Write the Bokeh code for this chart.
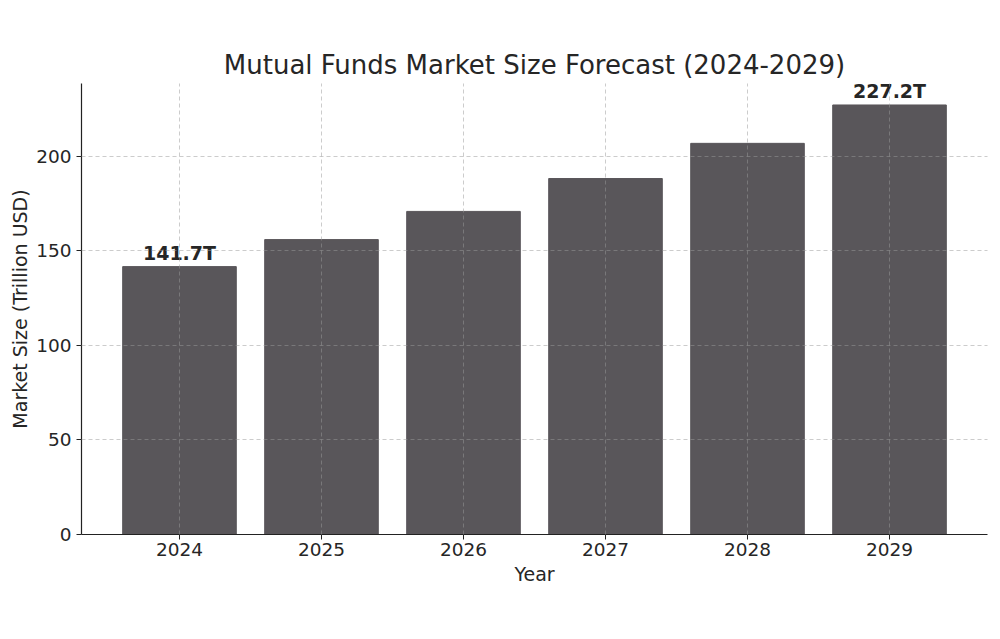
from bokeh.plotting import figure
from bokeh.models import ColumnDataSource, Range1d, FixedTicker, Label
from bokeh.embed import file_html
from bokeh.resources import INLINE

years = [2024, 2025, 2026, 2027, 2028, 2029]
market_size = [141.7, 156.0, 170.9, 188.3, 206.9, 227.2]
labelled_years = [2024, 2029]
labelled_text = ["141.7T", "227.2T"]

FONT = "DejaVu Sans"
TEXT = "#262626"
BAR = "#59565a"

source = ColumnDataSource(data=dict(x=years, top=market_size))

lo = years[0] - 0.4
hi = years[-1] + 0.4
pad = (hi - lo) * 0.05
p = figure(frame_width=906, frame_height=451, output_backend="svg", toolbar_location=None,
           x_range=Range1d(lo - pad, hi + pad),
           y_range=Range1d(0, max(market_size) * 1.05),
           title="Mutual Funds Market Size Forecast (2024-2029)")
p.min_border_left = 81
p.min_border_right = 4
p.min_border_top = 83
p.min_border_bottom = 80

p.vbar(x="x", top="top", width=0.8, source=source, fill_color=BAR, line_color=BAR)

for yr, txt in zip(labelled_years, labelled_text):
    p.add_layout(Label(x=yr, y=market_size[years.index(yr)], text=txt,
                       text_align="center", text_baseline="bottom", y_offset=3,
                       text_font=FONT, text_font_size="19px", text_font_style="bold",
                       text_color=TEXT))

p.title.align = "center"
p.title.text_font = FONT
p.title.text_font_size = "26px"
p.title.text_font_style = "normal"
p.title.text_color = TEXT
p.title.offset = 0
p.title.standoff = 8

p.xaxis.ticker = FixedTicker(ticks=years)
p.yaxis.ticker = FixedTicker(ticks=[0, 50, 100, 150, 200])
p.xaxis.axis_label = "Year"
p.yaxis.axis_label = "Market Size (Trillion USD)"
for ax in (p.xaxis, p.yaxis):
    ax.axis_label_text_font = FONT
    ax.axis_label_text_font_size = "19px"
    ax.axis_label_text_font_style = "normal"
    ax.axis_label_text_color = TEXT
    ax.major_label_text_font = FONT
    ax.major_label_text_font_size = "18.5px"
    ax.major_label_text_color = TEXT
    ax.axis_line_color = "#222222"
    ax.axis_line_width = 1.2
    ax.major_tick_line_color = "#222222"
    ax.major_tick_out = 5
    ax.major_tick_in = 0
    ax.minor_tick_line_color = None
p.xaxis.major_label_standoff = 3
p.xaxis.axis_label_standoff = 4
p.yaxis.axis_label_standoff = 2

for g in (p.xgrid, p.ygrid):
    g.grid_line_color = "#999999"
    g.grid_line_alpha = 0.5
    g.grid_line_dash = "4 3"
    g.level = "overlay"
p.xgrid.ticker = FixedTicker(ticks=years)

p.outline_line_color = None
p.background_fill_color = "white"
p.border_fill_color = "white"

open("out.html", "w").write(file_html(p, INLINE))
